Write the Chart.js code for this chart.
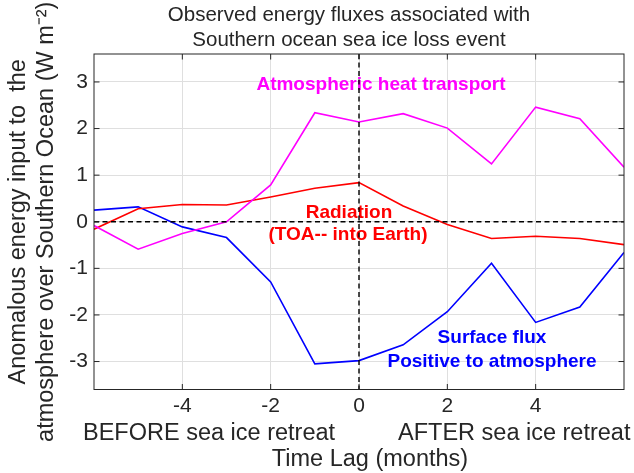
<!DOCTYPE html>
<html>
<head>
<meta charset="utf-8">
<script src="https://cdn.jsdelivr.net/npm/chart.js@4"></script>
<style>
  html, body { margin: 0; padding: 0; background: #fff; }
  #wrap { width: 634px; height: 473px; }
</style>
</head>
<body>
<div id="wrap"><canvas id="fluxChart" width="634" height="473"></canvas></div>
<script>
// time lag in months relative to the sea ice retreat
const lags = [-6, -5, -4, -3, -2, -1, 0, 1, 2, 3, 4, 5, 6];
const atmHeatTransport = [-0.08, -0.59, -0.25, 0.0, 0.79, 2.34, 2.14, 2.32, 2.01, 1.24, 2.46, 2.21, 1.17];
const radiation = [-0.16, 0.28, 0.37, 0.36, 0.53, 0.72, 0.84, 0.34, -0.06, -0.36, -0.31, -0.36, -0.49];
const surfaceFlux = [0.25, 0.32, -0.11, -0.34, -1.29, -3.05, -2.98, -2.64, -1.93, -0.89, -2.16, -1.83, -0.66];
const xTicks = [-4, -2, 0, 2, 4];
const yTicks = [-3, -2, -1, 0, 1, 2, 3];

const FONT = "'Liberation Sans', Arial, Helvetica, sans-serif";
const AXIS_COLOR = "#262626";
const GRID_COLOR = "#dfdfdf";

// build {x,y} points from the arrays
function toPoints(values) {
  return lags.map((lag, i) => ({ x: lag, y: values[i] }));
}

function text(ctx, str, x, y, font, color, align) {
  ctx.font = font;
  ctx.fillStyle = color;
  ctx.textAlign = align || "center";
  ctx.textBaseline = "alphabetic";
  ctx.fillText(str, x, y);
}

// frame, inward ticks, zero lines and the labels around the plot
const decorations = {
  id: "decorations",
  afterDatasetsDraw(chart) {
    const { ctx, chartArea: a, scales: { x, y } } = chart;
    ctx.save();

    // in-plot labels
    const bold = `bold 19px ${FONT}`;
    text(ctx, "Atmospheric heat transport", 381, 90, bold, "#ff00ff");
    text(ctx, "Radiation", 349, 218, bold, "#ff0000");
    text(ctx, "(TOA-- into Earth)", 348, 240, bold, "#ff0000");
    text(ctx, "Surface flux", 492, 343, bold, "#0000ff");
    text(ctx, "Positive to atmosphere", 492, 366.5, bold, "#0000ff");

    // dashed zero lines
    const y0 = y.getPixelForValue(0);
    const x0 = x.getPixelForValue(0);
    ctx.strokeStyle = "#000";
    ctx.lineWidth = 1.4;
    ctx.setLineDash([5, 3.5]);
    ctx.beginPath();
    ctx.moveTo(a.left, y0);
    ctx.lineTo(a.right, y0);
    ctx.moveTo(x0, a.top);
    ctx.lineTo(x0, a.bottom);
    ctx.stroke();
    ctx.setLineDash([]);

    // box + inward ticks
    ctx.strokeStyle = AXIS_COLOR;
    ctx.lineWidth = 1;
    ctx.strokeRect(a.left, a.top, a.right - a.left, a.bottom - a.top);
    const tl = 5.5;
    ctx.beginPath();
    xTicks.forEach((v) => {
      const px = x.getPixelForValue(v);
      ctx.moveTo(px, a.bottom);
      ctx.lineTo(px, a.bottom - tl);
      ctx.moveTo(px, a.top);
      ctx.lineTo(px, a.top + tl);
    });
    yTicks.forEach((v) => {
      const py = y.getPixelForValue(v);
      ctx.moveTo(a.left, py);
      ctx.lineTo(a.left + tl, py);
      ctx.moveTo(a.right, py);
      ctx.lineTo(a.right - tl, py);
    });
    ctx.stroke();

    // title
    const titleFont = `20.5px ${FONT}`;
    text(ctx, "Observed energy fluxes associated with", 349, 20.5, titleFont, AXIS_COLOR);
    text(ctx, "Southern ocean sea ice loss event", 349, 46, titleFont, AXIS_COLOR);

    // x label lines
    const labelFont = `23.5px ${FONT}`;
    text(ctx, "BEFORE sea ice retreat", 83, 440, labelFont, AXIS_COLOR, "left");
    text(ctx, "AFTER sea ice retreat", 398, 440, labelFont, AXIS_COLOR, "left");
    text(ctx, "Time Lag (months)", 370, 466, labelFont, AXIS_COLOR);

    ctx.restore();
  },
};

const lineStyle = { borderWidth: 1.6, pointRadius: 0, tension: 0, fill: false };

new Chart(document.getElementById("fluxChart"), {
  type: "line",
  data: {
    datasets: [
      { label: "Atmospheric heat transport", data: toPoints(atmHeatTransport), borderColor: "#ff00ff", ...lineStyle },
      { label: "Radiation", data: toPoints(radiation), borderColor: "#ff0000", ...lineStyle },
      { label: "Surface flux", data: toPoints(surfaceFlux), borderColor: "#0000ff", ...lineStyle },
    ],
  },
  options: {
    responsive: false,
    animation: false,
    devicePixelRatio: 1,
    layout: { padding: { top: 54, right: 10, left: 0, bottom: 0 } },
    plugins: {
      legend: { display: false },
      tooltip: { enabled: false },
      title: { display: false },
    },
    scales: {
      x: {
        type: "linear",
        min: -6,
        max: 6,
        afterBuildTicks: (scale) => {
          scale.ticks = xTicks.map((v) => ({ value: v }));
        },
        afterFit: (scale) => {
          scale.height = 83.5;
        },
        grid: { color: GRID_COLOR, drawTicks: false },
        border: { display: false },
        ticks: { padding: 4, color: AXIS_COLOR, font: { family: FONT, size: 21 }, maxRotation: 0 },
      },
      y: {
        type: "linear",
        min: -3.6,
        max: 3.6,
        afterBuildTicks: (scale) => {
          scale.ticks = yTicks.map((v) => ({ value: v }));
        },
        afterFit: (scale) => {
          scale.width = 94;
        },
        grid: { color: GRID_COLOR, drawTicks: false },
        border: { display: false },
        ticks: { padding: 6, color: AXIS_COLOR, font: { family: FONT, size: 21 } },
        title: {
          display: true,
          text: ["Anomalous energy input to  the", "atmosphere over Southern Ocean (W m\u207B\u00B2)"],
          color: AXIS_COLOR,
          font: { family: FONT, size: 23.5, lineHeight: 1.19 },
          padding: { top: 4.5, bottom: 0 },
        },
      },
    },
  },
  plugins: [decorations],
});
</script>
</body>
</html>
